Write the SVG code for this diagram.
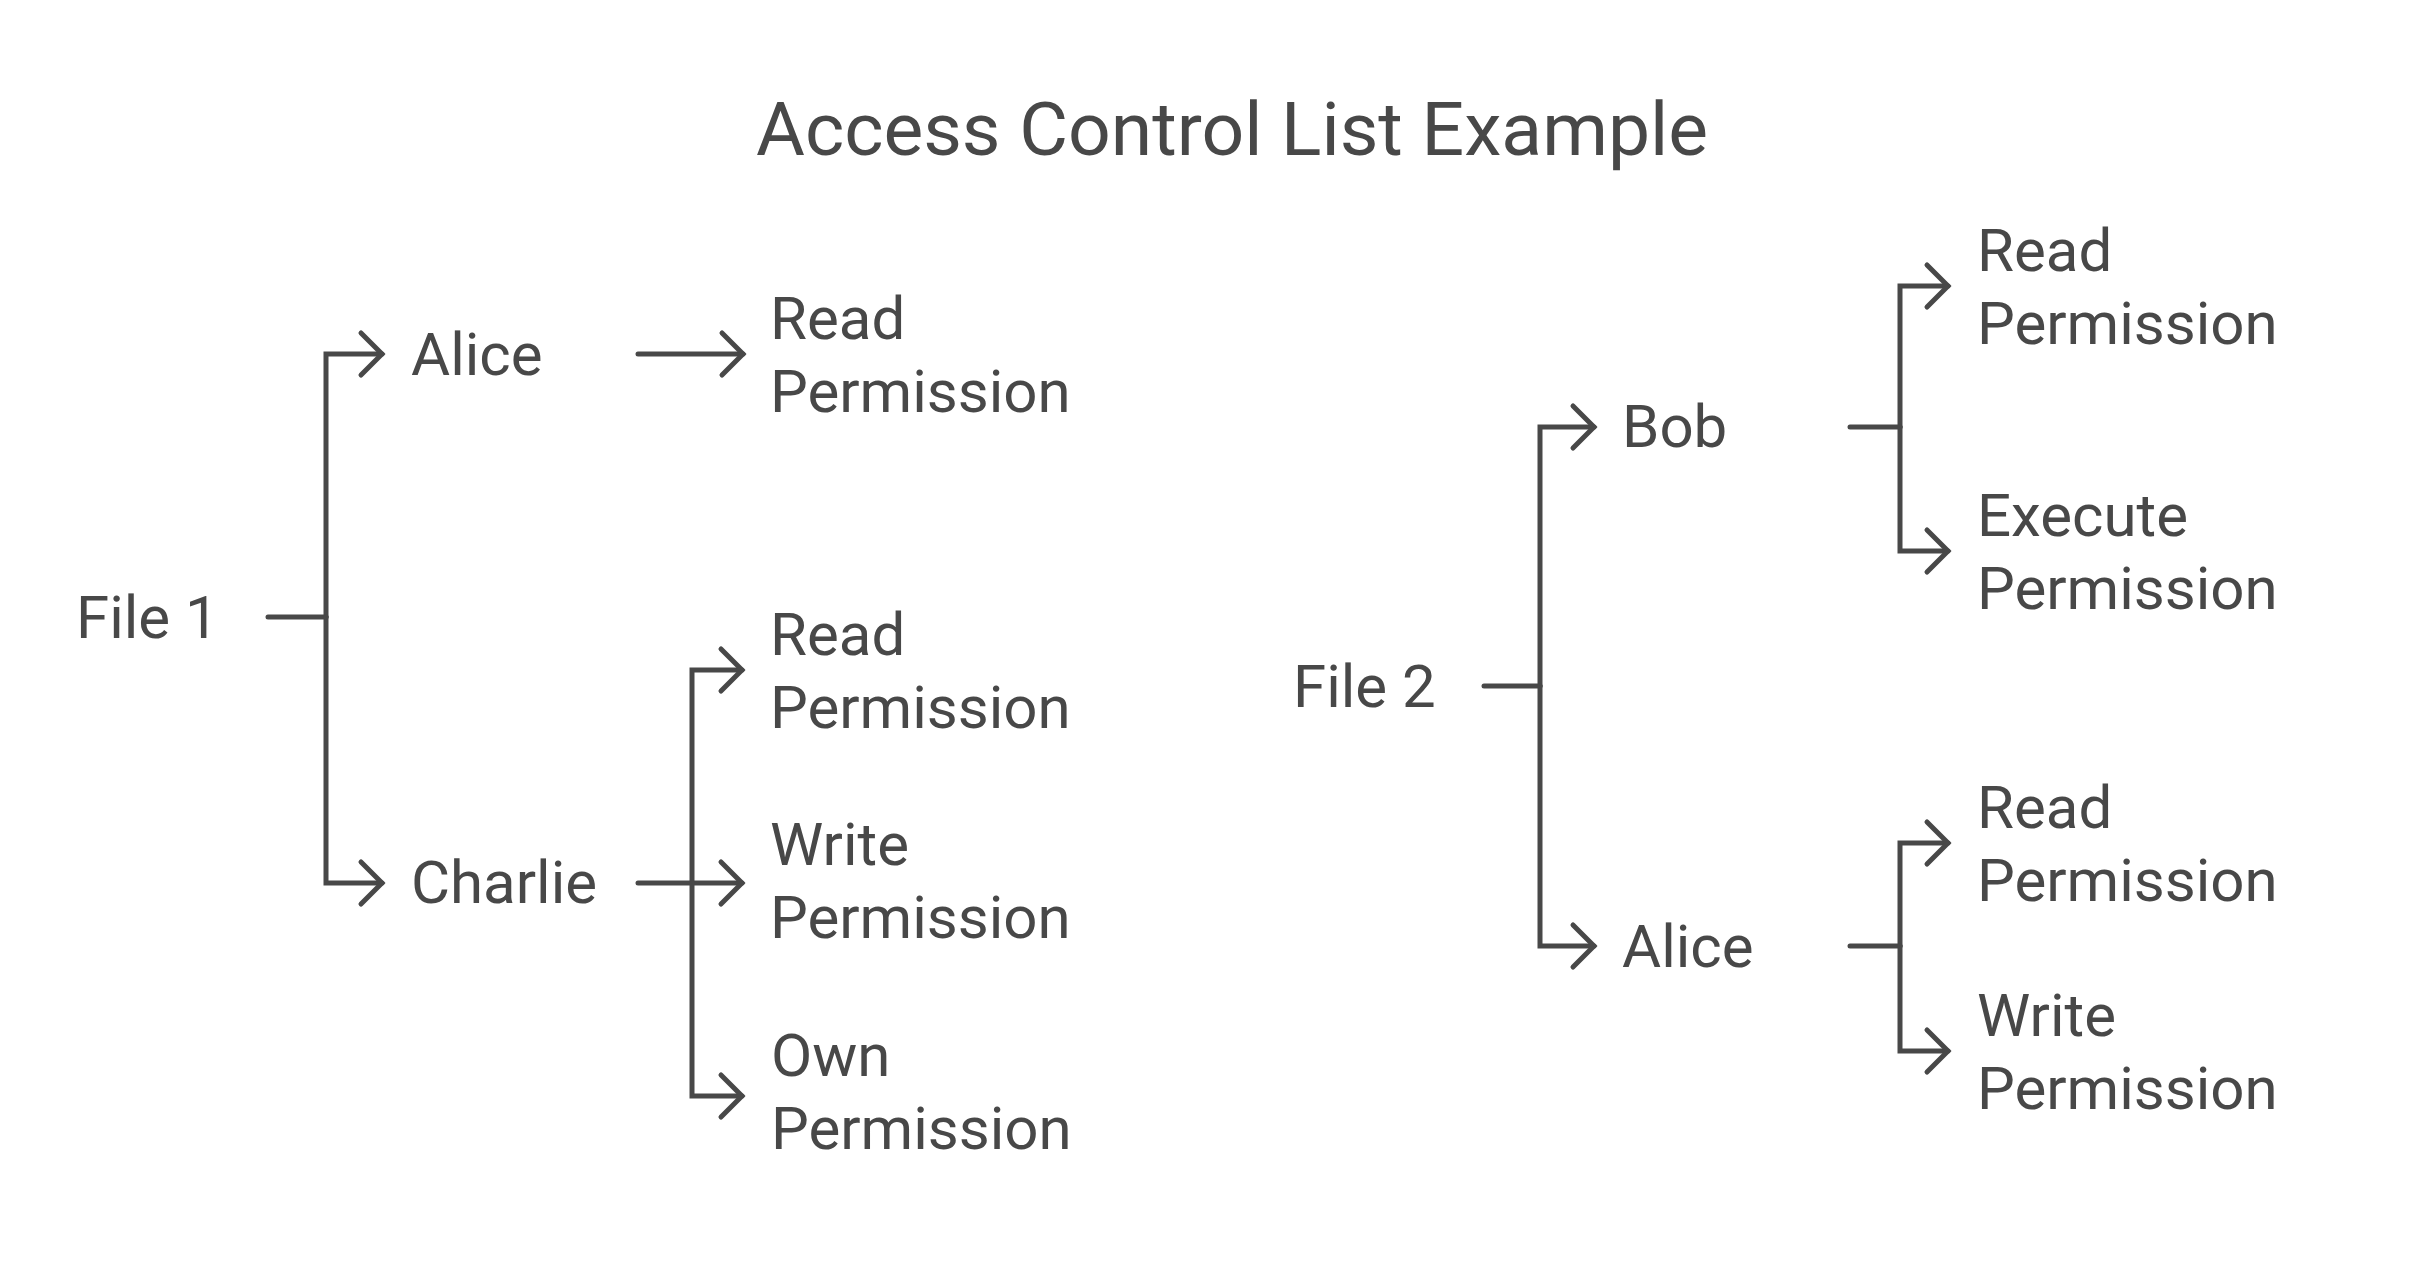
<svg xmlns="http://www.w3.org/2000/svg" width="2436" height="1278" viewBox="0 0 2436 1278">
<style>
.t{font-family:Roboto,"Liberation Sans",sans-serif;fill:#484848;font-size:60px}
.title{font-size:75px;text-anchor:middle}
.c{fill:none;stroke:#484848;stroke-width:5;stroke-linejoin:miter;stroke-linecap:round}
.a{marker-end:url(#arr)}
</style>
<defs>
<marker id="arr" markerUnits="userSpaceOnUse" viewBox="-4 -4 32 50" markerWidth="32" markerHeight="50" refX="21" refY="21" orient="auto">
<path d="M0 0 L21 21 L0 42" fill="none" stroke="#484848" stroke-width="5" stroke-linecap="round"/>
</marker>
</defs>
<rect width="2436" height="1278" fill="#ffffff"/>
<g id="title"><text class="t title" x="1232" y="155">Access Control List Example</text></g>
<g id="connectors">
<path class="c" d="M268 617 H326"/>
<path class="c a" d="M326 617 V354 H382"/>
<path class="c a" d="M326 617 V883 H382"/>
<path class="c a" d="M638 354 H743"/>
<path class="c" d="M638 883 H692"/>
<path class="c a" d="M692 883 V670 H742"/>
<path class="c a" d="M692 883 H742"/>
<path class="c a" d="M692 883 V1096 H742"/>
<path class="c" d="M1484 686 H1540"/>
<path class="c a" d="M1540 686 V427 H1594"/>
<path class="c a" d="M1540 686 V946 H1594"/>
<path class="c" d="M1850 427 H1900"/>
<path class="c a" d="M1900 427 V286 H1948"/>
<path class="c a" d="M1900 427 V551 H1948"/>
<path class="c" d="M1850 946 H1900"/>
<path class="c a" d="M1900 946 V843 H1948"/>
<path class="c a" d="M1900 946 V1051 H1948"/>
</g>
<g id="file1"><text class="t" x="76" y="638">File 1</text></g>
<g id="alice1"><text class="t" x="411" y="375">Alice</text></g>
<g id="charlie"><text class="t" x="411" y="903">Charlie</text></g>
<g id="alice1-read"><text class="t" x="770" y="339">Read</text><text class="t" x="770" y="412">Permission</text></g>
<g id="charlie-read"><text class="t" x="770" y="655">Read</text><text class="t" x="770" y="728">Permission</text></g>
<g id="charlie-write"><text class="t" x="770" y="865">Write</text><text class="t" x="770" y="938">Permission</text></g>
<g id="charlie-own"><text class="t" x="771" y="1076">Own</text><text class="t" x="771" y="1149">Permission</text></g>
<g id="file2"><text class="t" x="1293" y="707">File 2</text></g>
<g id="bob"><text class="t" x="1622" y="447">Bob</text></g>
<g id="alice2"><text class="t" x="1622" y="967">Alice</text></g>
<g id="bob-read"><text class="t" x="1977" y="271">Read</text><text class="t" x="1977" y="344">Permission</text></g>
<g id="bob-execute"><text class="t" x="1977" y="536">Execute</text><text class="t" x="1977" y="609">Permission</text></g>
<g id="alice2-read"><text class="t" x="1977" y="828">Read</text><text class="t" x="1977" y="901">Permission</text></g>
<g id="alice2-write"><text class="t" x="1977" y="1036">Write</text><text class="t" x="1977" y="1109">Permission</text></g>
</svg>
